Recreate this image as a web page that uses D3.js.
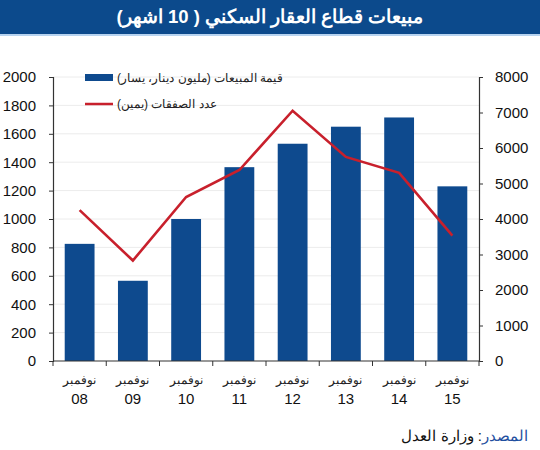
<!DOCTYPE html>
<html>
<head>
<meta charset="utf-8">
<script src="https://cdn.jsdelivr.net/npm/d3@7"></script>
<style>
  body { margin: 0; background: #fff; }
  svg { display: block; font-family: "Liberation Sans", Arial, sans-serif; }
</style>
</head>
<body>
<svg id="chart" width="540" height="450"></svg>
<script>
// data
var months = ["08", "09", "10", "11", "12", "13", "14", "15"];
var monthName = "نوفمبر";
var salesValue = [825, 565, 1000, 1365, 1530, 1650, 1715, 1230];   // left axis
var dealsCount = [4250, 2830, 4620, 5380, 7050, 5750, 5300, 3530]; // right axis
var leftTicks = [0, 200, 400, 600, 800, 1000, 1200, 1400, 1600, 1800, 2000];
var rightTicks = [0, 1000, 2000, 3000, 4000, 5000, 6000, 7000, 8000];
var title = "مبيعات قطاع العقار السكني ( 10 اشهر)";
var legendSales = "قيمة المبيعات (مليون دينار، يسار)";
var legendDeals = "عدد الصفقات (يمين)";

var svg = d3.select("#chart"),
  width = +svg.attr("width"),
  height = +svg.attr("height");

var blue = "#0e4a8e", red = "#c8202c";

// header band
svg.append("rect").attr("x", 0).attr("y", 0).attr("width", width).attr("height", 34).attr("fill", "#0c4a8c");
svg.append("rect").attr("x", 0).attr("y", 34).attr("width", width).attr("height", 2).attr("fill", "#b7d3f0");
svg.append("text")
  .attr("x", width / 2).attr("y", 23)
  .attr("direction", "rtl")
  .attr("text-anchor", "middle")
  .attr("fill", "#fff")
  .style("font-size", "18.5px").style("font-weight", "bold")
  .text(title);

var plotL = 53, plotR = 479, plotT = 77, plotB = 361;

var x = d3.scaleBand().domain(months).range([plotL, plotR]).paddingInner(0.44).paddingOuter(0.22);
var yL = d3.scaleLinear().domain([0, 2000]).range([plotB, plotT]);
var yR = d3.scaleLinear().domain([0, 8000]).range([plotB, plotT]);

// faint grid
svg.append("g").selectAll("line")
  .data(leftTicks.slice(1))
  .enter().append("line")
  .attr("x1", plotL).attr("x2", plotR)
  .attr("y1", d => yL(d)).attr("y2", d => yL(d))
  .attr("stroke", "#ececec").attr("stroke-width", 1);

// bars
svg.append("g").selectAll("rect")
  .data(salesValue)
  .enter().append("rect")
  .attr("x", (d, i) => x(months[i]))
  .attr("y", d => yL(d))
  .attr("width", x.bandwidth())
  .attr("height", d => plotB - yL(d))
  .attr("fill", blue);

// line
var line = d3.line()
  .x((d, i) => x(months[i]) + x.bandwidth() / 2)
  .y(d => yR(d));
svg.append("path")
  .datum(dealsCount)
  .attr("d", line)
  .attr("fill", "none")
  .attr("stroke", red)
  .attr("stroke-width", 2.6)
  .attr("stroke-linejoin", "miter");

// axes
var axisColor = "#333";
var gl = svg.append("g").attr("transform", "translate(" + plotL + ",0)")
  .call(d3.axisLeft(yL).tickValues(leftTicks).tickFormat(d3.format("d")).tickSize(4).tickPadding(13));
var gr = svg.append("g").attr("transform", "translate(" + plotR + ",0)")
  .call(d3.axisRight(yR).tickValues(rightTicks).tickFormat(d3.format("d")).tickSize(4).tickPadding(12));
[gl, gr].forEach(g => {
  g.select(".domain").attr("stroke", axisColor).attr("stroke-width", 1.2);
  g.selectAll(".tick line").attr("stroke", axisColor);
  g.selectAll("text").style("font-size", "15px").attr("fill", "#111").style("font-family", "'Liberation Sans', Arial, sans-serif");
});

// bottom axis: ticks at band boundaries
var bounds = d3.range(months.length + 1).map(i => plotL + i * (plotR - plotL) / months.length);
var gb = svg.append("g");
gb.append("line").attr("x1", plotL).attr("x2", plotR).attr("y1", plotB).attr("y2", plotB)
  .attr("stroke", axisColor).attr("stroke-width", 1.2);
gb.selectAll(".bt").data(bounds).enter().append("line")
  .attr("x1", d => d).attr("x2", d => d)
  .attr("y1", plotB).attr("y2", plotB + 5)
  .attr("stroke", axisColor);
var lab = gb.selectAll(".lab").data(months).enter().append("g")
  .attr("transform", d => "translate(" + (x(d) + x.bandwidth() / 2) + "," + plotB + ")");
lab.append("text").attr("y", 23).attr("text-anchor", "middle")
  .style("font-size", "12px").attr("fill", "#222").text(monthName);
lab.append("text").attr("y", 43).attr("text-anchor", "middle")
  .style("font-size", "15px").attr("fill", "#111").text(d => d);

// legend
var leg = svg.append("g");
leg.append("rect").attr("x", 85).attr("y", 74).attr("width", 28).attr("height", 7).attr("fill", blue);
leg.append("text").attr("x", 117).attr("y", 82)
  .attr("direction", "rtl").attr("text-anchor", "end")
  .style("font-size", "12px").attr("fill", "#222").text(legendSales);
leg.append("line").attr("x1", 85).attr("x2", 113).attr("y1", 104).attr("y2", 104)
  .attr("stroke", red).attr("stroke-width", 2.5);
leg.append("text").attr("x", 117).attr("y", 108)
  .attr("direction", "rtl").attr("text-anchor", "end")
  .style("font-size", "12px").attr("fill", "#222").text(legendDeals);

// source
var src = svg.append("text").attr("x", 528).attr("y", 441)
  .attr("direction", "rtl").attr("text-anchor", "start")
  .style("font-size", "15px");
src.append("tspan").attr("fill", "#1f4fa0").text("المصدر");
src.append("tspan").attr("fill", "#111").text(": وزارة العدل");
</script>
</body>
</html>
